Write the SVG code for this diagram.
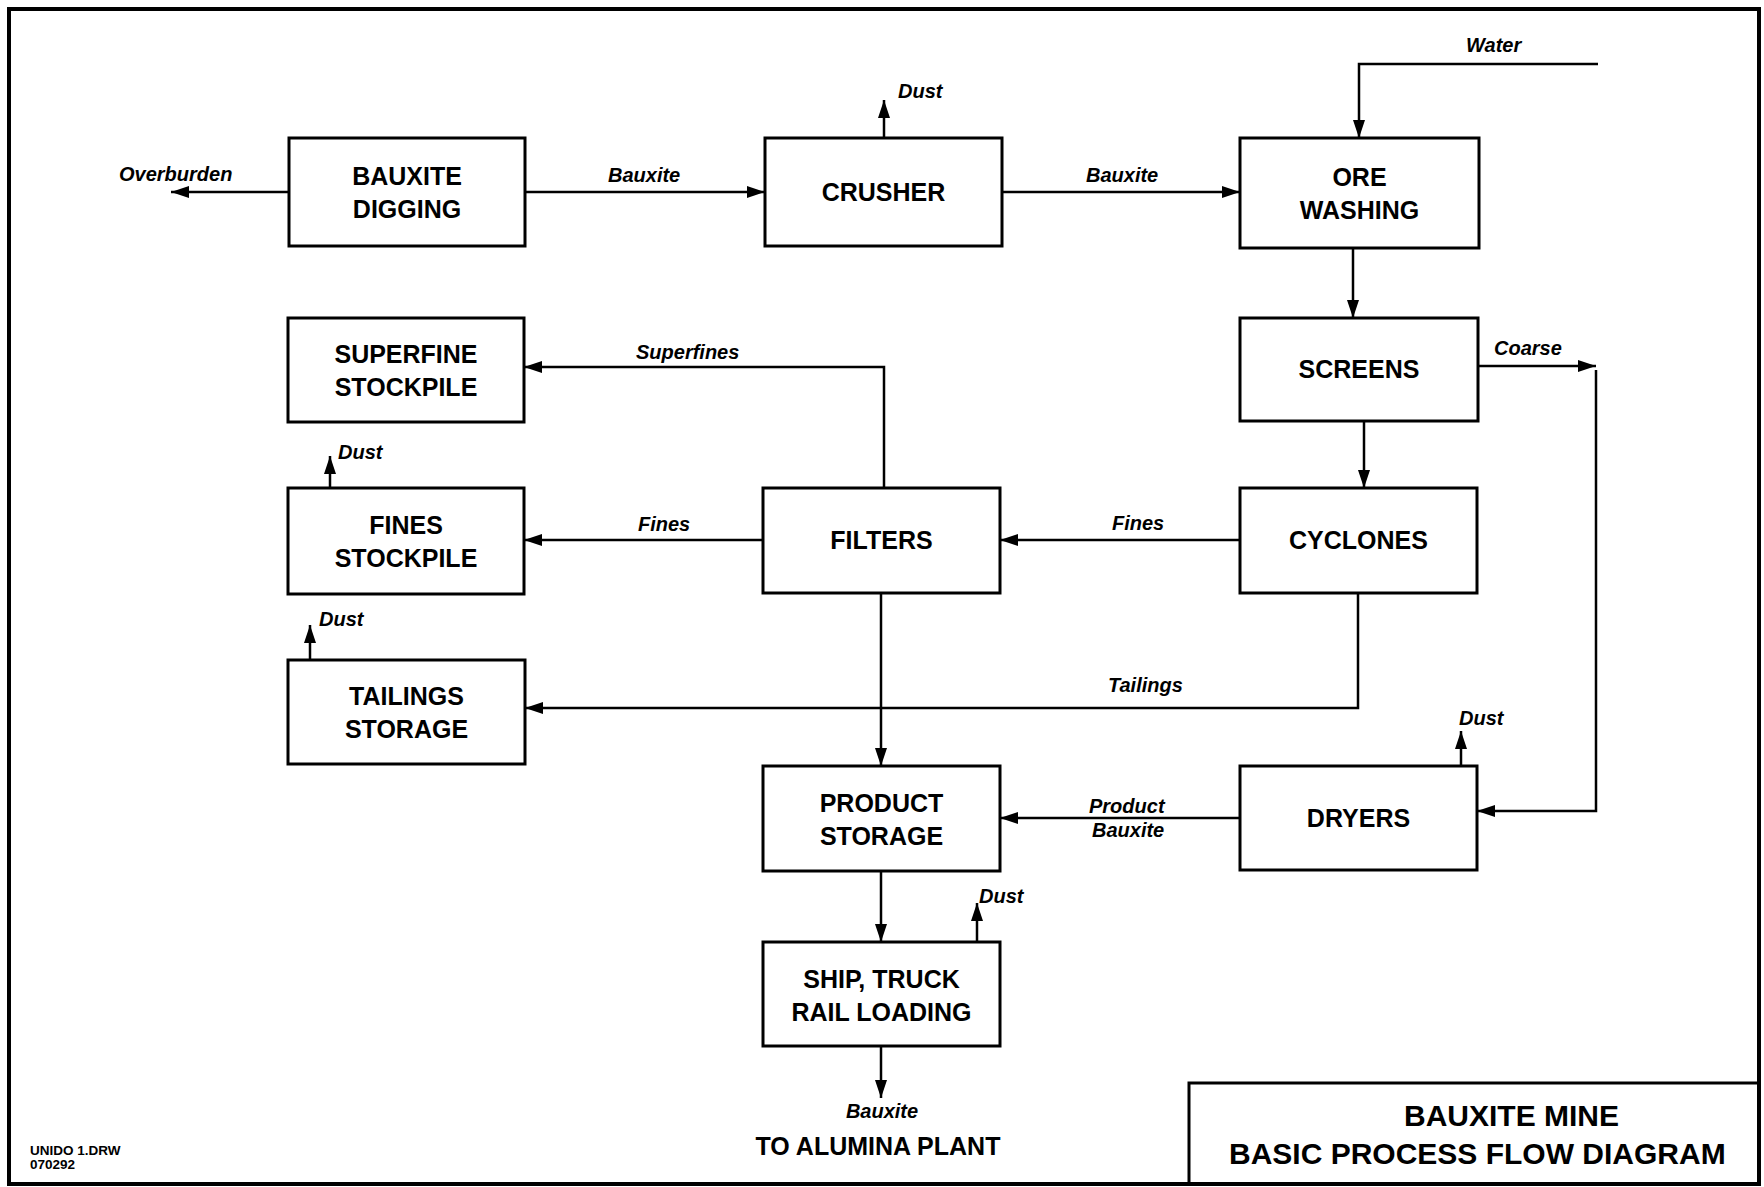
<svg xmlns="http://www.w3.org/2000/svg" width="1764" height="1187" viewBox="0 0 1764 1187">
<style>
.box{fill:#fff;stroke:#000;stroke-width:3}
.node{font-family:"Liberation Sans",Arial,sans-serif;font-weight:bold;font-size:25px;text-anchor:middle;fill:#000}
.lbl{font-family:"Liberation Sans",Arial,sans-serif;font-weight:bold;font-style:italic;font-size:20px;fill:#000}
.conn path{fill:none;stroke:#000;stroke-width:2.5;marker-end:url(#arr)}
.title{font-family:"Liberation Sans",Arial,sans-serif;font-weight:bold;font-size:30px;fill:#000}
.foot{font-family:"Liberation Sans",Arial,sans-serif;font-weight:bold;font-size:13.5px;fill:#000}
</style>
<defs>
<marker id="arr" markerUnits="userSpaceOnUse" markerWidth="20" markerHeight="14" refX="18" refY="7" orient="auto">
<path d="M0,1 L18,7 L0,13 Z" fill="#000"/>
</marker>
</defs>
<rect width="1764" height="1187" fill="#fff"/>
<rect id="frame" x="9" y="9" width="1750" height="1175" fill="none" stroke="#000" stroke-width="4"/>
<g id="titleblock">
<rect x="1189" y="1083" width="570" height="101" fill="none" stroke="#000" stroke-width="3"/>
<text class="title" x="1404" y="1126">BAUXITE MINE</text>
<text class="title" x="1229" y="1164">BASIC PROCESS FLOW DIAGRAM</text>
</g>
<g id="footer">
<text class="foot" x="30" y="1155">UNIDO 1.DRW</text>
<text class="foot" x="30" y="1169">070292</text>
</g>
<g id="connectors" class="conn">
<path d="M289,192 H171"/>
<path d="M525,192 H765"/>
<path d="M1002,192 H1240"/>
<path d="M884,138 V100"/>
<path d="M1598,64 H1359 V138"/>
<path d="M1353,248 V318"/>
<path d="M1478,366 H1596"/>
<path d="M1596,370 V811 H1477"/>
<path d="M1364,421 V488"/>
<path d="M1240,540 H1000"/>
<path d="M763,540 H524"/>
<path d="M884,488 V367 H524"/>
<path d="M881,593 V766"/>
<path d="M1358,593 V708 H525"/>
<path d="M1240,818 H1000"/>
<path d="M1461,766 V731"/>
<path d="M881,871 V942"/>
<path d="M977,942 V903"/>
<path d="M881,1046 V1098"/>
<path d="M330,488 V456"/>
<path d="M310,660 V625"/>
</g>
<g id="labels">
<text class="lbl" x="119" y="181">Overburden</text>
<text class="lbl" x="608" y="182">Bauxite</text>
<text class="lbl" x="1086" y="182">Bauxite</text>
<text class="lbl" x="898" y="98">Dust</text>
<text class="lbl" x="1466" y="52">Water</text>
<text class="lbl" x="1494" y="355">Coarse</text>
<text class="lbl" x="636" y="359">Superfines</text>
<text class="lbl" x="638" y="531">Fines</text>
<text class="lbl" x="1112" y="530">Fines</text>
<text class="lbl" x="338" y="459">Dust</text>
<text class="lbl" x="319" y="626">Dust</text>
<text class="lbl" x="1108" y="692">Tailings</text>
<text class="lbl" x="1459" y="725">Dust</text>
<text class="lbl" x="1089" y="813">Product</text>
<text class="lbl" x="1092" y="837">Bauxite</text>
<text class="lbl" x="979" y="903">Dust</text>
<text class="lbl" x="882" y="1118" text-anchor="middle">Bauxite</text>
<text class="node" x="878" y="1155">TO ALUMINA PLANT</text>
</g>
<g id="n-digging"><rect class="box" x="289" y="138" width="236" height="108"/><text class="node" x="407" y="185">BAUXITE</text><text class="node" x="407" y="218">DIGGING</text></g>
<g id="n-crusher"><rect class="box" x="765" y="138" width="237" height="108"/><text class="node" x="883.5" y="201">CRUSHER</text></g>
<g id="n-orewashing"><rect class="box" x="1240" y="138" width="239" height="110"/><text class="node" x="1359.5" y="186">ORE</text><text class="node" x="1359.5" y="219">WASHING</text></g>
<g id="n-screens"><rect class="box" x="1240" y="318" width="238" height="103"/><text class="node" x="1359" y="378">SCREENS</text></g>
<g id="n-superfine"><rect class="box" x="288" y="318" width="236" height="104"/><text class="node" x="406" y="363">SUPERFINE</text><text class="node" x="406" y="396">STOCKPILE</text></g>
<g id="n-cyclones"><rect class="box" x="1240" y="488" width="237" height="105"/><text class="node" x="1358.5" y="549">CYCLONES</text></g>
<g id="n-filters"><rect class="box" x="763" y="488" width="237" height="105"/><text class="node" x="881.5" y="549">FILTERS</text></g>
<g id="n-fines"><rect class="box" x="288" y="488" width="236" height="106"/><text class="node" x="406" y="534">FINES</text><text class="node" x="406" y="567">STOCKPILE</text></g>
<g id="n-tailings"><rect class="box" x="288" y="660" width="237" height="104"/><text class="node" x="406.5" y="705">TAILINGS</text><text class="node" x="406.5" y="738">STORAGE</text></g>
<g id="n-product"><rect class="box" x="763" y="766" width="237" height="105"/><text class="node" x="881.5" y="812">PRODUCT</text><text class="node" x="881.5" y="845">STORAGE</text></g>
<g id="n-dryers"><rect class="box" x="1240" y="766" width="237" height="104"/><text class="node" x="1358.5" y="827">DRYERS</text></g>
<g id="n-loading"><rect class="box" x="763" y="942" width="237" height="104"/><text class="node" x="881.5" y="988">SHIP, TRUCK</text><text class="node" x="881.5" y="1021">RAIL LOADING</text></g>
</svg>
